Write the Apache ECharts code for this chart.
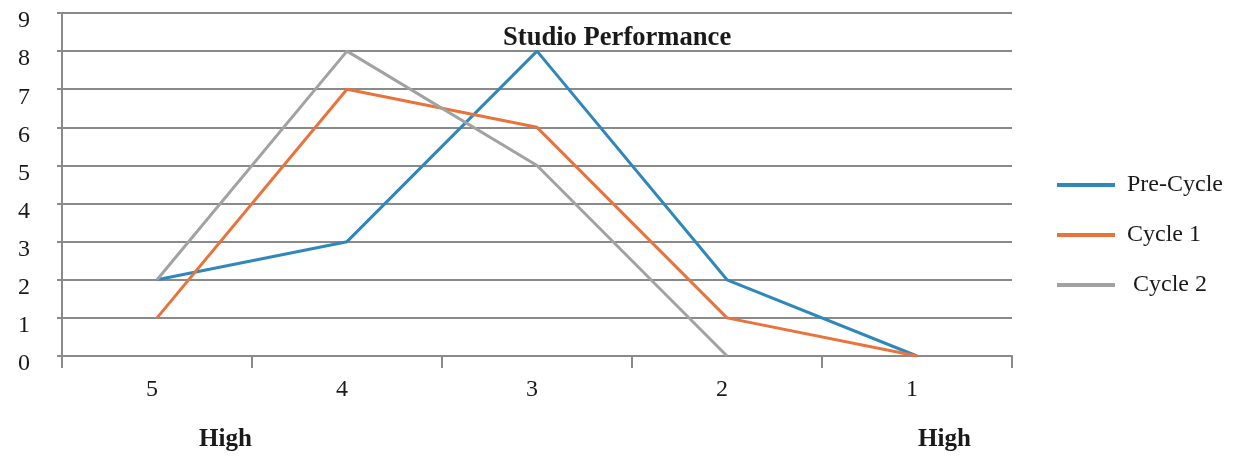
<!DOCTYPE html>
<html>
<head>
<meta charset="utf-8">
<script src="https://cdn.jsdelivr.net/npm/echarts@6/dist/echarts.min.js"></script>
<style>
  html, body { margin: 0; padding: 0; background: #fff; }
  #chart { width: 1242px; height: 460px; }
</style>
</head>
<body>
<div id="chart"></div>
<script>
// Ratings along the x axis, from 5 down to 1
const categories = ['5', '4', '3', '2', '1'];
const seriesNames = ['Pre-Cycle', 'Cycle 1', ' Cycle 2'];
const preCycle = [2, 3, 8, 2, 0];
const cycle1 = [1, 7, 6, 1, 0];
const cycle2 = [2, 8, 5, 0, null];
const colors = ['#2f87ba', '#e8733c', '#a2a2a2'];
const endLabels = ['High', 'High'];

const serif = '"Liberation Serif", "Times New Roman", serif';
const chart = echarts.init(document.getElementById('chart'));

function lineSeries(name, data, color) {
  return {
    name: name,
    type: 'line',
    data: data,
    symbol: 'none',
    connectNulls: false,
    lineStyle: { color: color, width: 3 },
    itemStyle: { color: color },
    z: 3
  };
}

chart.setOption({
  backgroundColor: '#ffffff',
  animation: false,
  color: colors,
  title: {
    text: 'Studio Performance',
    left: 498,
    top: 20,
    textStyle: { fontFamily: serif, fontWeight: 'bold', fontSize: 26.6, color: '#1a1a1a' }
  },
  grid: { left: 62, right: 230, top: 13, bottom: 104, containLabel: false },
  legend: {
    orient: 'vertical',
    left: 1052,
    top: 168,
    itemWidth: 58,
    itemHeight: 4,
    itemGap: 26,
    icon: 'rect',
    data: seriesNames,
    textStyle: { fontFamily: serif, fontSize: 24, color: '#1a1a1a', padding: [0, 0, 0, 7], lineHeight: 24 }
  },
  xAxis: {
    type: 'category',
    data: categories,
    boundaryGap: true,
    axisLine: { lineStyle: { color: '#8a8a8a', width: 2 } },
    axisTick: { show: true, interval: 0, length: 12, lineStyle: { color: '#8a8a8a', width: 2 } },
    axisLabel: { fontFamily: serif, fontSize: 24, color: '#1a1a1a', margin: 22, padding: [0, 10, 0, 0] },
    splitLine: { show: false }
  },
  yAxis: {
    type: 'value',
    min: 0,
    max: 9,
    interval: 1,
    axisLine: { show: true, lineStyle: { color: '#8a8a8a', width: 2 } },
    axisTick: { show: true, length: 5, lineStyle: { color: '#8a8a8a', width: 2 } },
    axisLabel: { fontFamily: serif, fontSize: 24, color: '#1a1a1a', margin: 32, verticalAlign: 'top', lineHeight: 16 },
    splitLine: { show: true, lineStyle: { color: '#8a8a8a', width: 2 } }
  },
  graphic: [
    {
      type: 'text', left: 199, top: 427,
      style: { text: endLabels[0], fontFamily: serif, fontWeight: 'bold', fontSize: 25, fill: '#1a1a1a' }
    },
    {
      type: 'text', left: 918, top: 427,
      style: { text: endLabels[1], fontFamily: serif, fontWeight: 'bold', fontSize: 25, fill: '#1a1a1a' }
    }
  ],
  series: [
    lineSeries(seriesNames[0], preCycle, colors[0]),
    lineSeries(seriesNames[1], cycle1, colors[1]),
    lineSeries(seriesNames[2], cycle2, colors[2])
  ]
});
</script>
</body>
</html>
